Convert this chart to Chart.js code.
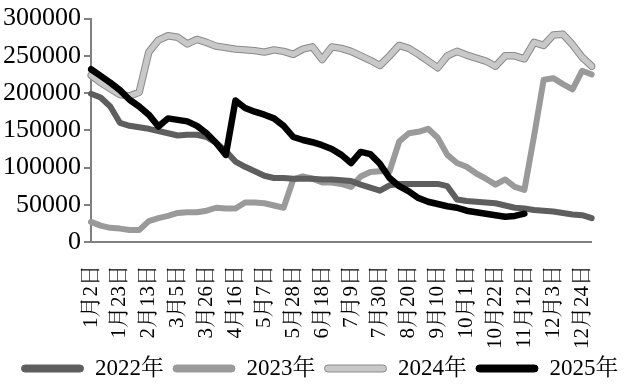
<!DOCTYPE html>
<html>
<head>
<meta charset="utf-8">
<script src="https://cdn.jsdelivr.net/npm/chart.js@4/dist/chart.umd.min.js"></script>
<style>
  body { margin: 0; background: #fff; }
  #wrap { width: 640px; height: 390px; }
</style>
</head>
<body>
<div id="wrap"><canvas id="lineChart"></canvas></div>
<script>
// weekly dates (leap-year calendar), 1月2日 .. 12月31日
const categories = [
  '1月2日', '1月9日', '1月16日', '1月23日', '1月30日', '2月6日', '2月13日', '2月20日', '2月27日',
  '3月5日', '3月12日', '3月19日', '3月26日', '4月2日', '4月9日', '4月16日', '4月23日', '4月30日',
  '5月7日', '5月14日', '5月21日', '5月28日', '6月4日', '6月11日', '6月18日', '6月25日', '7月2日',
  '7月9日', '7月16日', '7月23日', '7月30日', '8月6日', '8月13日', '8月20日', '8月27日', '9月3日',
  '9月10日', '9月17日', '9月24日', '10月1日', '10月8日', '10月15日', '10月22日', '10月29日', '11月5日',
  '11月12日', '11月19日', '11月26日', '12月3日', '12月10日', '12月17日', '12月24日', '12月31日'
];

const tickLabels = [
  '1月2日', '1月23日', '2月13日', '3月5日', '3月26日', '4月16日', '5月7日', '5月28日', '6月18日',
  '7月9日', '7月30日', '8月20日', '9月10日', '10月1日', '10月22日', '11月12日', '12月3日', '12月24日'
];

const yTicks = [0, 50000, 100000, 150000, 200000, 250000, 300000];

const seriesNames = ['2022年', '2023年', '2024年', '2025年'];

const y2022 = [199000, 194000, 182000, 160000, 156000, 154000, 152000, 149000, 146000, 143000,
  144000, 144000, 141000, 133000, 122000, 108000, 101000, 95000, 89000, 86000,
  86000, 85000, 85000, 85000, 84000, 84000, 83000, 82000, 77000, 73000,
  69000, 76000, 78000, 78000, 78000, 78000, 78000, 75000, 57000, 55000,
  54000, 53000, 52000, 49000, 46000, 45000, 43000, 42000, 41000, 39000,
  37000, 36000, 32000];

const y2023 = [27000, 22000, 19000, 18000, 16000, 16000, 28000, 32000, 35000, 39000,
  40000, 40000, 42000, 46000, 45000, 45000, 53000, 53000, 52000, 49000,
  46000, 84000, 88000, 85000, 80000, 80000, 78000, 74000, 88000, 94000,
  95000, 95000, 135000, 146000, 148000, 152000, 140000, 117000, 106000, 101000,
  92000, 85000, 77000, 84000, 74000, 70000, 142000, 218000, 220000, 212000,
  205000, 230000, 225000];

const y2024 = [224000, 214000, 206000, 198000, 196000, 201000, 255000, 271000, 277000, 275000,
  266000, 272000, 268000, 263000, 261000, 259000, 258000, 257000, 255000, 258000,
  256000, 252000, 259000, 262000, 245000, 262000, 260000, 256000, 250000, 244000,
  237000, 250000, 264000, 260000, 252000, 243000, 234000, 250000, 256000, 251000,
  247000, 243000, 236000, 250000, 250000, 246000, 268000, 264000, 278000, 279000,
  265000, 248000, 236000];

const y2025 = [232000, 223000, 214000, 204000, 191000, 182000, 171000, 155000, 166000, 164000,
  162000, 156000, 146000, 133000, 117000, 190000, 180000, 175000, 171000, 166000,
  156000, 141000, 137000, 134000, 130000, 125000, 117000, 106000, 121000, 118000,
  105000, 86000, 75000, 68000, 59000, 54000, 51000, 48000, 46000, 42000,
  40000, 38000, 36000, 34000, 35000, 38000, null, null, null, null,
  null, null, null];

const colors = ['#5e5e5e', '#9a9a9a', '#c8c8c8', '#000000'];
const outline2024 = '#8a8a8a';
const serif = "'Liberation Serif', 'Noto Serif CJK SC', 'Noto Sans CJK SC', serif";

function line(label, data, color, width, order) {
  return {
    label: label,
    data: data,
    borderColor: color,
    backgroundColor: color,
    borderWidth: width,
    pointRadius: 0,
    tension: 0,
    borderJoinStyle: 'round',
    borderCapStyle: 'round',
    spanGaps: false,
    order: order
  };
}

const ctx = document.getElementById('lineChart').getContext('2d');
const chart = new Chart(ctx, {
  type: 'line',
  data: {
    labels: categories,
    datasets: [
      line(seriesNames[0], y2022, colors[0], 6, 2),
      line(seriesNames[1], y2023, colors[1], 6, 3),
      line(seriesNames[2], y2024, colors[2], 5.5, 4),
      line(seriesNames[3], y2025, colors[3], 6.5, 1),
      line('outline', y2024, outline2024, 7.5, 5)
    ]
  },
  options: {
    responsive: true,
    maintainAspectRatio: false,
    animation: false,
    layout: { padding: { top: 15, right: 0, left: 0, bottom: 0 } },
    scales: {
      x: {
        offset: false,
        grid: { display: false, drawTicks: false },
        border: { display: true, color: '#808080', width: 2 },
        ticks: {
          autoSkip: false,
          minRotation: 90,
          maxRotation: 90,
          padding: 23,
          color: '#000',
          font: { family: serif, size: 21 },
          callback: function(value, index) {
            const lab = categories[index];
            return tickLabels.includes(lab) ? lab : '';
          }
        },
        afterFit: function(scale) { scale.height = 106; }
      },
      y: {
        min: 0,
        max: 300000,
        afterBuildTicks: function(scale) {
          scale.ticks = yTicks.map(v => ({ value: v }));
        },
        grid: { drawOnChartArea: false, drawTicks: true, tickLength: 7, color: '#808080', lineWidth: 2 },
        border: { display: true, color: '#808080', width: 2 },
        ticks: {
          autoSkip: false,
          padding: 3,
          color: '#000',
          font: { family: serif, size: 26 },
          callback: v => String(v)
        },
        afterFit: function(scale) { scale.width = 91; }
      },
      // empty right-hand space, keeps the legend full width
      yRight: {
        position: 'right',
        min: 0,
        max: 300000,
        grid: { display: false, drawTicks: false },
        border: { display: false },
        ticks: { display: false },
        afterFit: function(scale) { scale.width = 29; }
      }
    },
    plugins: {
      tooltip: { enabled: false },
      legend: {
        position: 'bottom',
        labels: {
          boxWidth: 62,
          boxHeight: 7,
          padding: 9,
          color: '#000',
          useBorderRadius: true,
          borderRadius: 3.5,
          font: { family: serif, size: 23 },
          generateLabels: function() {
            return seriesNames.map((name, i) => ({
              text: name,
              fillStyle: colors[i],
              strokeStyle: i === 2 ? outline2024 : colors[i],
              lineWidth: 1,
              borderRadius: 3.5,
              hidden: false,
              datasetIndex: i
            }));
          }
        }
      }
    }
  }
});
</script>
</body>
</html>
